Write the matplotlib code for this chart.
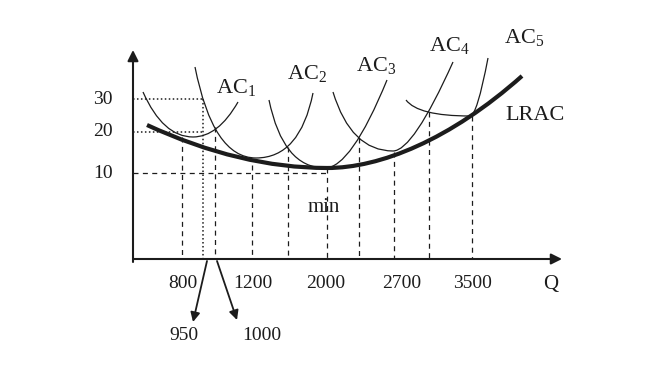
import matplotlib.pyplot as plt
from matplotlib.path import Path
from matplotlib.patches import PathPatch

plt.rcParams['font.family'] = ['Liberation Serif', 'DejaVu Serif']
plt.rcParams['mathtext.fontset'] = 'custom'
plt.rcParams['mathtext.rm'] = 'Liberation Serif'
plt.rcParams['mathtext.default'] = 'rm'

INK = '#1c1c1c'

# drawing units (x to the right, y downwards, page-like)
origin = (133, 259)
x_end = 562
y_end = 50

# short-run average cost curves: left end, lowest point, right end,
# and x of the bezier control points of each branch
ac_names = ['AC$_1$', 'AC$_2$', 'AC$_3$', 'AC$_4$', 'AC$_5$']
ac_left = [(143, 92), (195, 67), (269, 100), (333, 92), (406, 100)]
ac_low = [(193, 137), (256, 158), (325, 168), (393, 151), (470, 116)]
ac_right = [(238, 102), (313, 93), (387, 80), (453, 62), (488, 58)]
ac_ctrl_l = [163, 213, 283, 351, 418]
ac_ctrl_r = [218, 300, 351, 413, 477]
ac_label_xy = [(236, 87), (307, 73), (376, 66), (449, 45), (524, 38)]

# long-run average cost envelope
lrac_pts = [(147, 125), (240, 168), (327, 168), (380, 168), (450, 140), (522, 76)]

# quantity levels and guide lines
q_labels = ['800', '1200', '2000', '2700', '3500']
q_label_x = [183, 253, 326, 402, 473]
guide_x = [182, 215, 252, 288, 327, 359, 394, 429, 472]
guide_top = [137, 127, 165, 147, 168, 138, 152, 112, 116]
dot_x, dot_top = 203, 99

# cost levels
cost_labels = ['30', '20', '10']
cost_y = [99, 132, 173]
cost_line_end = [203, 203, 327]
cost_style = [':', ':', '--']

fig = plt.figure(figsize=(6.53, 3.72), dpi=100)
ax = fig.add_axes([0, 0, 1, 1])
ax.set_xlim(0, 653)
ax.set_ylim(372, 0)
ax.axis('off')

# axes with arrows
ax.annotate('', xy=(origin[0], y_end), xytext=(origin[0], origin[1] + 3),
            arrowprops=dict(arrowstyle='-|>', color=INK, lw=1.5,
                            mutation_scale=16, shrinkA=0, shrinkB=0))
ax.annotate('', xy=(x_end, origin[1]), xytext=(origin[0], origin[1]),
            arrowprops=dict(arrowstyle='-|>', color=INK, lw=1.5,
                            mutation_scale=16, shrinkA=0, shrinkB=0))

# guide lines
for gx, gt in zip(guide_x, guide_top):
    ax.plot([gx, gx], [gt, origin[1]], color=INK, lw=0.9, dashes=(4, 3.5))
ax.plot([dot_x, dot_x], [dot_top, origin[1]], color=INK, lw=1.1, ls=(0, (1, 1.6)))
for cy, ce, cs in zip(cost_y, cost_line_end, cost_style):
    if cs == ':':
        ax.plot([origin[0], ce], [cy, cy], color=INK, lw=1.1, ls=(0, (1, 1.6)))
    else:
        ax.plot([origin[0], ce], [cy, cy], color=INK, lw=0.9, dashes=(4, 3.5))

# short-run curves
for L, M, R, cl, cr in zip(ac_left, ac_low, ac_right, ac_ctrl_l, ac_ctrl_r):
    verts = [L, (cl, M[1]), M, (cr, M[1]), R]
    codes = [Path.MOVETO, Path.CURVE3, Path.CURVE3, Path.CURVE3, Path.CURVE3]
    ax.add_patch(PathPatch(Path(verts, codes), fill=False, ec=INK, lw=0.9))

# envelope
codes = [Path.MOVETO, Path.CURVE3, Path.CURVE3, Path.CURVE4, Path.CURVE4, Path.CURVE4]
ax.add_patch(PathPatch(Path(lrac_pts, codes), fill=False, ec=INK, lw=3.0,
                       capstyle='butt'))

# labels
for name, (lx, ly) in zip(ac_names, ac_label_xy):
    ax.text(lx, ly, name, fontsize=16, ha='center', va='center', color=INK)
ax.text(535, 116, 'LRAC', fontsize=16, ha='center', va='center', color=INK)
ax.text(324, 207, 'min', fontsize=15, ha='center', va='center', color=INK)

for lab, cy in zip(cost_labels, cost_y):
    ax.text(113, cy, lab, fontsize=14, ha='right', va='center', color=INK)

for lab, lx in zip(q_labels, q_label_x):
    ax.text(lx, 284, lab, fontsize=14, ha='center', va='center', color=INK)
ax.text(551, 284, 'Q', fontsize=15, ha='center', va='center', color=INK)

# arrows pointing to 950 and 1000
ax.annotate('', xy=(193, 322), xytext=(207, 261),
            arrowprops=dict(arrowstyle='-|>', color=INK, lw=1.3,
                            mutation_scale=14, shrinkA=0, shrinkB=0))
ax.annotate('', xy=(237, 320), xytext=(217, 261),
            arrowprops=dict(arrowstyle='-|>', color=INK, lw=1.3,
                            mutation_scale=14, shrinkA=0, shrinkB=0))
ax.text(184, 335, '950', fontsize=14, ha='center', va='center', color=INK)
ax.text(262, 335, '1000', fontsize=14, ha='center', va='center', color=INK)

fig.savefig('out.png', dpi=100, facecolor='white')
